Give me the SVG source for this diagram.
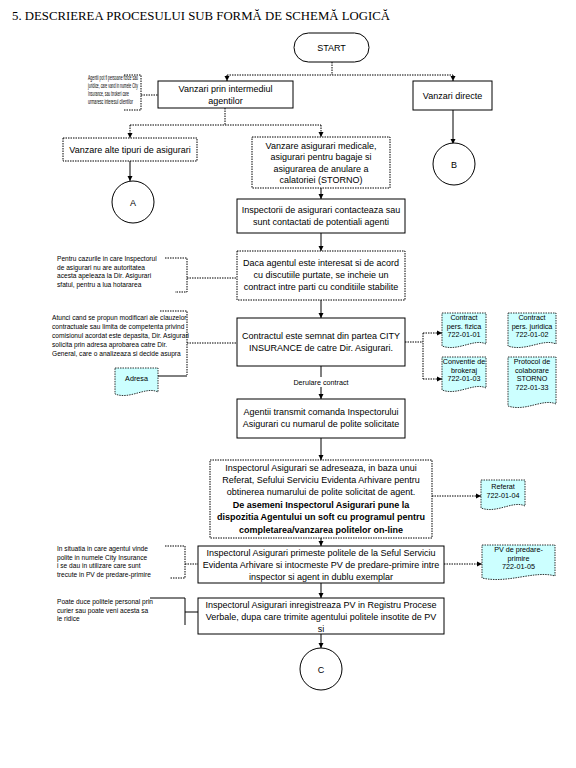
<svg xmlns="http://www.w3.org/2000/svg" width="576" height="768" viewBox="0 0 576 768">
<defs>
<marker id="ah" viewBox="0 0 10 10" refX="10" refY="5" markerWidth="5" markerHeight="6" orient="auto" markerUnits="userSpaceOnUse"><path d="M0,0 L10,5 L0,10 z" fill="#000"/></marker>
</defs>
<style>
.box{fill:#fff;stroke:#000;stroke-width:1}
.dbox{fill:#fff;stroke:#000;stroke-width:1;stroke-dasharray:1.5 1}
.doc{fill:#ccffff;stroke:#000;stroke-width:0.8;stroke-dasharray:1.5 1}
.t{font-family:"Liberation Sans",Arial,sans-serif;font-size:9px;text-anchor:middle;fill:#000}
.b{font-weight:bold}
.n{font-family:"Liberation Sans",Arial,sans-serif;font-size:6.6px;fill:#000}
.dt{font-family:"Liberation Sans",Arial,sans-serif;font-size:7.2px;text-anchor:middle;fill:#000}
.c{fill:none;stroke:#000;stroke-width:1}
.cd{fill:none;stroke:#000;stroke-width:1;stroke-dasharray:1.5 1}
.a{marker-end:url(#ah)}
</style>
<rect width="576" height="768" fill="#fff"/>
<text x="12" y="20" font-family="'Liberation Serif',serif" font-size="11.5" textLength="378" lengthAdjust="spacingAndGlyphs">5. DESCRIEREA PROCESULUI SUB FORMĂ DE SCHEMĂ LOGICĂ</text>

<g id="connectors">
<path class="cd" d="M332,62 V75 M227,75 H453"/>
<path class="cd a" d="M227,75 V81"/>
<path class="cd a" d="M453,75 V81"/>
<path class="cd" d="M225,108 V125 M130,125 H321"/>
<path class="cd a" d="M130,125 V138"/>
<path class="cd a" d="M321,125 V137"/>
<path class="c a" d="M453,110 V144"/>
<path class="c a" d="M130,161 V181"/>
<path class="c a" d="M321,188 V199"/>
<path class="c a" d="M321,233 V251"/>
<path class="c a" d="M321,300 V318"/>
<path class="c a" d="M321,366 V399"/>
<path class="c a" d="M321,438 V460"/>
<path class="c a" d="M321,538 V546"/>
<path class="c a" d="M321,583 V598"/>
<path class="c a" d="M321,634 V648"/>
<rect x="282" y="377" width="78" height="10" fill="#fff"/>
<text class="dt" x="321" y="385">Derulare contract</text>
<path class="cd" d="M124,75 H141 V110 H124 M141,95 H158"/>
<path class="cd" d="M165,258 H187 V292 H175 M187,278 H237"/>
<path class="cd" d="M160,311 H187 V375 M187,343 H237"/>
<path class="c" d="M158,376 H187"/>
<path class="cd" d="M405,342 H423 M423,333 V379"/>
<path class="cd a" d="M423,333 H442"/>
<path class="cd a" d="M423,379 H442"/>
<path class="cd a" d="M432,496 H481"/>
<path class="cd a" d="M444,564 H482"/>
<path class="cd" d="M165,546 H185 V578 H170 M185,564 H198"/>
<path class="c" d="M150,598 H185 V625 M185,612 H198"/>
</g>

<g id="start"><rect class="box" x="294" y="33" width="75" height="29" rx="14.5"/><text class="t" x="331.5" y="51">START</text></g>
<g id="n_vpa"><rect class="box" x="158" y="81" width="135" height="27"/><text class="t" x="225.5" y="92">Vanzari prin intermediul</text><text class="t" x="225.5" y="103.5">agentilor</text></g>
<g id="n_directe"><rect class="box" x="413" y="81" width="79" height="29"/><text class="t" x="452.5" y="98.5">Vanzari directe</text></g>
<g id="n_alte"><rect class="dbox" x="63" y="138" width="134" height="23"/><text class="t" x="130" y="152.5">Vanzare alte tipuri de asigurari</text></g>
<g id="n_medicale"><rect class="dbox" x="252" y="137" width="138" height="51"/><text class="t" x="321" y="148.5">Vanzare asigurari medicale,</text><text class="t" x="321" y="160">asigurari pentru bagaje si</text><text class="t" x="321" y="171.5">asigurarea de anulare a</text><text class="t" x="321" y="183">calatoriei (STORNO)</text></g>
<g id="n_inspectorii"><rect class="box" x="237" y="199" width="168" height="34"/><text class="t" x="321" y="213">Inspectorii de asigurari contacteaza sau</text><text class="t" x="321" y="225">sunt contactati de potentiali agenti</text></g>
<g id="n_daca"><rect class="dbox" x="237" y="251" width="168" height="49"/><text class="t" x="321" y="266">Daca agentul este interesat si de acord</text><text class="t" x="321" y="278">cu discutiile purtate, se incheie un</text><text class="t" x="321" y="290">contract intre parti cu conditiile stabilite</text></g>
<g id="n_contractul"><rect class="box" x="237" y="318" width="168" height="48"/><text class="t" x="321" y="339">Contractul este semnat din partea CITY</text><text class="t" x="321" y="351">INSURANCE de catre Dir. Asigurari.</text></g>
<g id="n_agentii"><rect class="box" x="237" y="399" width="168" height="39"/><text class="t" x="321" y="415">Agentii transmit comanda Inspectorului</text><text class="t" x="321" y="427">Asigurari cu numarul de polite solicitate</text></g>
<g id="n_adreseaza"><rect class="dbox" x="210" y="460" width="222" height="78"/><text class="t" x="321" y="471">Inspectorul Asigurari se adreseaza, in baza unui</text><text class="t" x="321" y="483">Referat, Sefului Serviciu Evidenta Arhivare pentru</text><text class="t" x="321" y="495">obtinerea numarului de polite solicitat de agent.</text><text class="t b" x="321" y="507.5">De asemeni Inspectorul Asigurari  pune la</text><text class="t b" x="321" y="520">dispozitia Agentului un soft cu programul pentru</text><text class="t b" x="321" y="532.5">completarea/vanzarea politelor on-line</text></g>
<g id="n_primeste"><rect class="box" x="198" y="546" width="246" height="37"/><text class="t" x="321" y="556">Inspectorul Asigurari primeste politele de la Seful Serviciu</text><text class="t" x="321" y="568">Evidenta Arhivare si intocmeste PV de predare-primire intre</text><text class="t" x="321" y="580">inspector si agent in dublu exemplar</text></g>
<g id="n_inregistreaza"><rect class="box" x="198" y="598" width="246" height="36"/><text class="t" x="321" y="608">Inspectorul Asigurari inregistreaza PV in Registru Procese</text><text class="t" x="321" y="620">Verbale, dupa care trimite agentului politele insotite de PV</text><text class="t" x="321" y="632">si</text></g>
<g id="n_A"><circle class="box" cx="133" cy="202" r="21"/><text class="t" x="133" y="205.5">A</text></g>
<g id="n_B"><circle class="box" cx="454" cy="164" r="21"/><text class="t" x="454" y="167.5">B</text></g>
<g id="n_C"><circle class="box" cx="321" cy="669" r="21"/><text class="t" x="321" y="672.5">C</text></g>

<g id="note1"><text class="n" x="88" y="80" textLength="50" lengthAdjust="spacingAndGlyphs">Agentii pot fi persoane fizice sau</text><text class="n" x="88" y="88" textLength="50" lengthAdjust="spacingAndGlyphs">juridice, care vand in numele City</text><text class="n" x="88" y="96" textLength="41" lengthAdjust="spacingAndGlyphs">Insurance, sau brokeri care</text><text class="n" x="88" y="104" textLength="45" lengthAdjust="spacingAndGlyphs">urmaresc interesul clientilor</text></g>
<g id="note2"><text class="n" x="57" y="261">Pentru cazurile in care Inspectorul</text><text class="n" x="57" y="269.5">de asigurari nu are autoritatea</text><text class="n" x="57" y="278">acesta apeleaza la Dir. Asigurari</text><text class="n" x="57" y="286.5">sfatul, pentru a lua hotararea</text></g>
<g id="note3"><text class="n" x="52" y="320">Atunci cand se propun modificari ale clauzelor</text><text class="n" x="52" y="329">contractuale sau limita de competenta privind</text><text class="n" x="52" y="338">comisionul acordat este depasita, Dir. Asigurari</text><text class="n" x="52" y="347">solicita prin adresa aprobarea catre Dir.</text><text class="n" x="52" y="356">General, care o analizeaza si decide asupra</text></g>
<g id="note4"><text class="n" x="57" y="551">In situatia in care agentul vinde</text><text class="n" x="57" y="559.5">polite in numele City Insurance</text><text class="n" x="57" y="568">i se dau in utilizare care sunt</text><text class="n" x="57" y="576.5">trecute in PV de predare-primire</text></g>
<g id="note5"><text class="n" x="57" y="604">Poate duce politele personal prin</text><text class="n" x="57" y="612.5">curier sau poate veni acesta sa</text><text class="n" x="57" y="621">le ridice</text></g>

<g id="d_adresa"><path class="doc" d="M115,368 H158 V392 C146,386 130,400 115,394 Z"/><text class="dt" x="136.5" y="381">Adresa</text></g>
<g id="d_fizica"><path class="doc" d="M442,313 H486 V344 C474,338 458,352 442,346 Z"/><text class="dt" x="464" y="320">Contract</text><text class="dt" x="464" y="328.5">pers. fizica</text><text class="dt" x="464" y="337">722-01-01</text></g>
<g id="d_juridica"><path class="doc" d="M508,313 H556 V344 C543,338 526,352 508,346 Z"/><text class="dt" x="532" y="320">Contract</text><text class="dt" x="532" y="328.5">pers. juridica</text><text class="dt" x="532" y="337">722-01-02</text></g>
<g id="d_brokeraj"><path class="doc" d="M442,357 H486 V388 C474,382 458,396 442,390 Z"/><text class="dt" x="464" y="364">Conventie de</text><text class="dt" x="464" y="372.5">brokeraj</text><text class="dt" x="464" y="381">722-01-03</text></g>
<g id="d_storno"><path class="doc" d="M508,357 H556 V404 C543,398 526,412 508,406 Z"/><text class="dt" x="532" y="364">Protocol de</text><text class="dt" x="532" y="372.5">colaborare</text><text class="dt" x="532" y="381">STORNO</text><text class="dt" x="532" y="389.5">722-01-33</text></g>
<g id="d_referat"><path class="doc" d="M481,480 H525 V506 C513,500 497,514 481,508 Z"/><text class="dt" x="503" y="489">Referat</text><text class="dt" x="503" y="498">722-01-04</text></g>
<g id="d_pv"><path class="doc" d="M482,545 H555 V576 C535,570 508,584 482,578 Z"/><text class="dt" x="518.5" y="552">PV de predare-</text><text class="dt" x="518.5" y="560.5">primire</text><text class="dt" x="518.5" y="569">722-01-05</text></g>
</svg>
